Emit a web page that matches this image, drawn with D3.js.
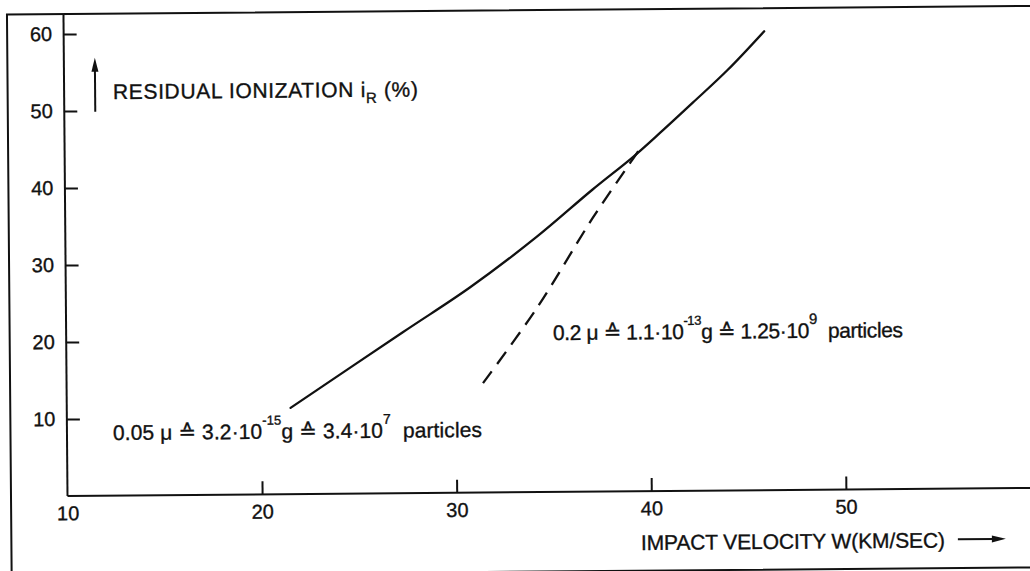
<!DOCTYPE html>
<html>
<head>
<meta charset="utf-8">
<script src="https://cdn.jsdelivr.net/npm/d3@7"></script>
<style>
  html, body { margin: 0; padding: 0; background: #fff; }
  svg { display: block; }
  text { font-family: "Liberation Sans", "DejaVu Sans", sans-serif; fill: #111; stroke: #111; stroke-width: 0.35px; }
</style>
</head>
<body>
<svg id="chart" width="1030" height="571"></svg>
<script>
// Impact velocity (km/s) and residual ionization (%) for the two particle sizes
const solidVelocity = [21.5, 27.3, 30.8, 34.2, 37.1, 39.2, 40.6, 42.3, 44.1, 46.0];
const solidIonization = [11.2, 20.9, 26.7, 33.1, 39.2, 43.4, 46.5, 50.4, 54.6, 59.6];
const dashedVelocity = [31.4, 34.2, 37.1, 39.1, 39.6];
const dashedIonization = [14.2, 23.9, 35.5, 42.8, 44.6];

const velocityTicks = [10, 20, 30, 40, 50];
const ionizationTicks = [10, 20, 30, 40, 50, 60];

const ink = "#111";
const svg = d3.select("#chart");
svg.append("rect").attr("width", 1030).attr("height", 571).attr("fill", "#fff");

// whole plate sits slightly tilted, origin at the axis corner
const g = svg.append("g").attr("transform", "translate(67.5,496) rotate(-0.48)");

const x = d3.scaleLinear().domain([10, 60]).range([0, 973]);
const y = d3.scaleLinear().domain([0, 60]).range([0, -462]);

// outer frame
g.append("rect")
  .attr("x", -56.5).attr("y", -482)
  .attr("width", 1200).attr("height", 561.5)
  .attr("fill", "none").attr("stroke", ink).attr("stroke-width", 2);

// axis lines
g.append("line").attr("x1", 0).attr("x2", 0).attr("y1", y(0)).attr("y2", -482)
  .attr("stroke", ink).attr("stroke-width", 2);
g.append("line").attr("x1", 0).attr("x2", 1100).attr("y1", y(0)).attr("y2", y(0))
  .attr("stroke", ink).attr("stroke-width", 2);

const xAxis = g.append("g").attr("transform", `translate(0,${y(0)})`)
  .call(d3.axisBottom(x).tickValues(velocityTicks).tickSize(-13).tickPadding(10).tickFormat(d3.format("d")));
const yAxis = g.append("g")
  .call(d3.axisLeft(y).tickValues(ionizationTicks).tickSize(-13).tickPadding(11.5).tickFormat(d3.format("d")));

[xAxis, yAxis].forEach(a => {
  a.attr("font-size", 20).attr("font-family", null);
  a.select(".domain").remove();
  a.selectAll(".tick line").attr("stroke", ink).attr("stroke-width", 2);
  a.selectAll(".tick text").attr("fill", ink).style("font-size", "20px");
});
xAxis.selectAll(".tick").filter(d => d === 10).select("line").remove();

// curves
const line = d3.line().x(d => x(d[0])).y(d => y(d[1])).curve(d3.curveCatmullRom.alpha(0.5));
const solid = solidVelocity.map((v, i) => [v, solidIonization[i]]);
const dashed = dashedVelocity.map((v, i) => [v, dashedIonization[i]]);

g.append("path").datum(solid).attr("d", line)
  .attr("fill", "none").attr("stroke", ink).attr("stroke-width", 2.3).attr("stroke-linecap", "round");
g.append("path").datum(dashed).attr("d", line)
  .attr("fill", "none").attr("stroke", ink).attr("stroke-width", 2.3)
  .attr("stroke-dasharray", "15,9");

// text helper: pieces are [string, fontSize, dy]
function richText(px, py, pieces, length) {
  const t = g.append("text").attr("x", px).attr("y", py);
  pieces.forEach(p => {
    t.append("tspan").text(p[0]).style("font-size", p[1] + "px").attr("dy", p[2] || 0);
  });
  if (length) t.attr("textLength", length).attr("lengthAdjust", "spacing");
  return t;
}

// vertical axis title with arrow
richText(48.8, -396.6, [
  ["RESIDUAL IONIZATION i", 21],
  ["R", 15, 6],
  [" (%)", 21, -6]
], 305);
g.append("line").attr("x1", 31).attr("x2", 31).attr("y1", -384).attr("y2", -426)
  .attr("stroke", ink).attr("stroke-width", 2);
g.append("path").attr("d", "M31,-438 L27.5,-424 L34.5,-424 Z").attr("fill", ink);

// horizontal axis title with arrow
richText(573, 58.8, [["IMPACT VELOCITY W(KM/SEC)", 21]], 304);
g.append("line").attr("x1", 890).attr("x2", 927).attr("y1", 50.7).attr("y2", 50.7)
  .attr("stroke", ink).attr("stroke-width", 2);
g.append("path").attr("d", "M938,50.7 L924,47.2 L924,54.2 Z").attr("fill", ink);

// curve annotations
richText(46, -55.6, [
  ["0.05 \u03bc \u2259 3.2\u00b710", 21],
  ["-15", 13, -14],
  ["g \u2259 3.4\u00b710", 21, 14],
  ["7", 14, -14],
  ["\u00a0\u00a0particles", 21, 14]
], 369);
richText(486.8, -151.9, [
  ["0.2 \u03bc \u2259 1.1\u00b710", 21],
  ["-13", 13, -14],
  ["g \u2259 1.25\u00b710", 21, 14],
  ["9", 15, -14],
  ["\u00a0\u00a0particles", 21, 14]
], 350);
</script>
</body>
</html>
